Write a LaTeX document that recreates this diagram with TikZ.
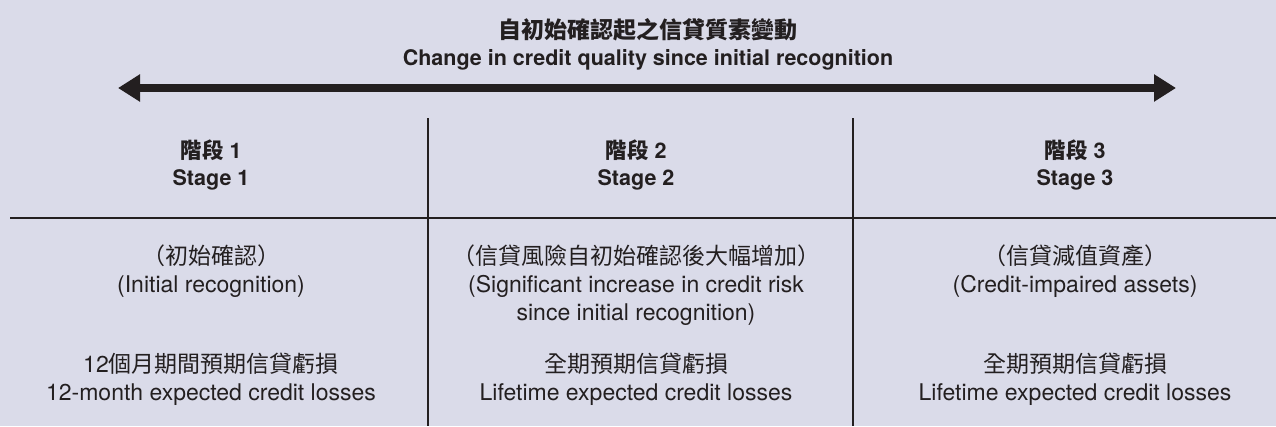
\documentclass[tikz,border=0pt]{standalone}
\usepackage{fontspec}
\setmainfont{TeX Gyre Heros}
\newfontfamily\cjk{Noto Sans CJK TC}
\usetikzlibrary{arrows.meta}
\definecolor{panelbg}{RGB}{218,219,233}
\definecolor{ink}{RGB}{35,31,32}

\begin{document}
\begin{tikzpicture}[x=1pt,
            y=-1pt,
            >={Triangle[length=22pt,width=26pt]},
            every node/.style={text=ink,align=center,inner sep=0pt,anchor=north,
                               font=\fontsize{23}{28}\selectfont},
            heading/.style={font=\fontsize{21.5}{27.5}\selectfont\bfseries},
            rule/.style={draw=ink,line width=1.2pt},
            bigarrow/.style={<->,draw=ink,line width=8pt}]

        \useasboundingbox[fill=panelbg] (0,0) rectangle (1276,426);

        % title and arrow
        \node[heading] (title) at (648,18)
            {{\cjk\fontsize{23}{27.5}\selectfont 自初始確認起之信貸質素變動}\\Change in credit quality since initial recognition};
        \coordinate (lft) at (118,88);
        \coordinate (rgt) at (1176,88);
        \draw[bigarrow] (lft) -- (rgt);

        % grid
        \coordinate (hl) at (10,218);
        \coordinate (hr) at (1276,218);
        \coordinate (vt1) at (428,118);
        \coordinate (vb1) at (428,426);
        \coordinate (vt2) at (853,118);
        \coordinate (vb2) at (853,426);
        \draw[rule] (hl) -- (hr);
        \draw[rule] (vt1) -- (vb1);
        \draw[rule] (vt2) -- (vb2);

        % stages
        \node[heading] (stage1) at (211,139.5)  {{\cjk 階段} 1\\Stage 1};
        \node[heading] (stage2) at (636,139.5)  {{\cjk 階段} 2\\Stage 2};
        \node[heading] (stage3) at (1075,139.5) {{\cjk 階段} 3\\Stage 3};

        \node (cond1) at (211,244.5)  {{\cjk （初始確認）}\\(Initial recognition)};
        \node (cond2) at (636,244.5)  {{\cjk （信貸風險自初始確認後大幅增加）}\\(Significant increase in credit risk\\since initial recognition)};
        \node (cond3) at (1075,244.5) {{\cjk （信貸減值資產）}\\(Credit-impaired assets)};

        \node (loss1) at (211,352.5)  {12{\cjk 個月期間預期信貸虧損}\\12-month expected credit losses};
        \node (loss2) at (636,352.5)  {{\cjk 全期預期信貸虧損}\\Lifetime expected credit losses};
        \node (loss3) at (1075,352.5) {{\cjk 全期預期信貸虧損}\\Lifetime expected credit losses};

    \end{tikzpicture}
\end{document}
